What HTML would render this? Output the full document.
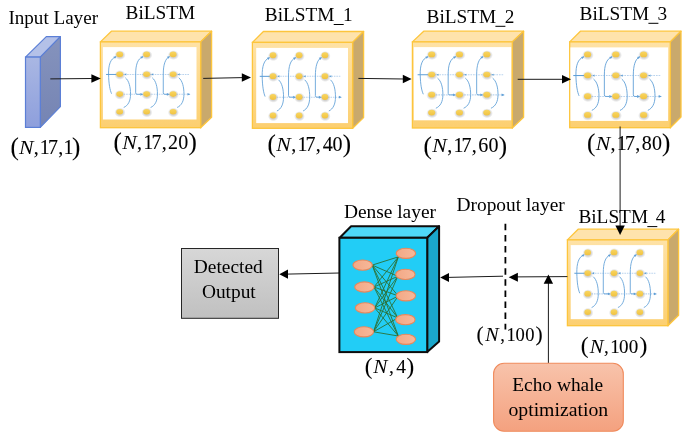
<!DOCTYPE html>
<html><head><meta charset="utf-8"><style>
html,body{margin:0;padding:0;background:#fff;}
body{width:687px;height:438px;overflow:hidden;position:relative;}
svg{position:absolute;left:0;top:0;will-change:transform;}
text{font-family:"Liberation Serif", serif;fill:#000;}
</style></head><body>
<svg width="687" height="438" viewBox="0 0 687 438">
<defs>
<linearGradient id="gfront" x1="0" y1="0" x2="0" y2="1">
 <stop offset="0" stop-color="#fee2a6"/><stop offset="1" stop-color="#fccf70"/>
</linearGradient>
<linearGradient id="ginfront" x1="0" y1="0" x2="0" y2="1">
 <stop offset="0" stop-color="#a9b7e3"/><stop offset="1" stop-color="#8e9fdc"/>
</linearGradient>
<linearGradient id="ginside" x1="0" y1="0" x2="0" y2="1">
 <stop offset="0" stop-color="#8593bd"/><stop offset="1" stop-color="#7584b3"/>
</linearGradient>
<linearGradient id="ggray" x1="0" y1="0" x2="0" y2="1">
 <stop offset="0" stop-color="#d7d7d7"/><stop offset="1" stop-color="#c0c0c0"/>
</linearGradient>
<linearGradient id="gsalmon" x1="0" y1="0" x2="0" y2="1">
 <stop offset="0" stop-color="#f8c3ab"/><stop offset="1" stop-color="#f4a17f"/>
</linearGradient>
<linearGradient id="gnode" x1="0" y1="0" x2="1" y2="0">
 <stop offset="0" stop-color="#f3a885"/><stop offset="1" stop-color="#f6b89a"/>
</linearGradient>
<linearGradient id="gdot" x1="0" y1="0" x2="0" y2="1">
 <stop offset="0" stop-color="#f9d660"/><stop offset="1" stop-color="#f0c242"/>
</linearGradient>
<radialGradient id="gshadow" cx="0.5" cy="0.5" r="0.5">
 <stop offset="0.55" stop-color="#9a9a9a" stop-opacity="0.45"/><stop offset="1" stop-color="#9a9a9a" stop-opacity="0"/>
</radialGradient>
</defs>
<polygon points="25.5,57.1 46.3,36.6 60.4,36.6 40.3,57.1" fill="#b4c1e8" stroke="#5b7fd6" stroke-width="1.2" stroke-linejoin="round"/>
<polygon points="40.3,57.1 60.4,36.6 60.4,106.6 40.3,127.4" fill="url(#ginside)" stroke="#5b7fd6" stroke-width="1.2" stroke-linejoin="round"/>
<rect x="25.5" y="57.1" width="14.8" height="70.3" fill="url(#ginfront)" stroke="#5b7fd6" stroke-width="1.2"/>
<polygon points="100.4,41.9 111.4,31.2 211.6,31.2 200.6,41.9" fill="#fee3ac" stroke="#fdc53c" stroke-width="1.3" stroke-linejoin="round"/>
<polygon points="200.6,41.9 211.6,31.2 211.6,117.3 200.6,127.7" fill="#c9a96c" stroke="#fdc53c" stroke-width="1.3" stroke-linejoin="round"/>
<rect x="100.4" y="41.9" width="100.2" height="85.8" fill="url(#gfront)" stroke="#fdc53c" stroke-width="1.3"/>
<rect x="102.9" y="47.1" width="93.6" height="72.4" fill="#ffffff"/>
<g transform="translate(99.52,41.22) scale(1.004,0.998)"><line x1="20" y1="33.3" x2="90" y2="33.3" stroke="#b9d3ee" stroke-width="1" stroke-dasharray="1.6 0.9"/>
<line x1="24" y1="53.2" x2="90" y2="53.2" stroke="#b9d3ee" stroke-width="1" stroke-dasharray="1.6 0.9"/>
<line x1="6.5" y1="33.3" x2="18" y2="33.3" stroke="#5f9fd7" stroke-width="1"/>
<polygon points="24.5,33.3 26.7,32.2 26.7,34.4" fill="#5f9fd7"/>
<polygon points="51.3,33.3 53.5,32.2 53.5,34.4" fill="#5f9fd7"/>
<polygon points="77.7,33.3 79.9,32.2 79.9,34.4" fill="#5f9fd7"/>
<polygon points="90.5,53.2 87.6,51.9 87.6,54.5" fill="#5f9fd7"/>
<path d="M16.4,15.5 C10.7,17.5 8.9,24 9,33 C9.2,43 10.4,49 12,52.6" fill="none" stroke="#5f9fd7" stroke-width="0.85"/>
<polygon points="17,15.0 13.8,15.6 15.4,17.6" fill="#5f9fd7"/>
<path d="M25.7,36.6 C29.4,39.5 30.9,46 30.9,53 C30.9,60 28.4,64.5 24.1,66.4" fill="none" stroke="#5f9fd7" stroke-width="0.85"/>
<path d="M43.2,15.5 C37.8,17.5 36,24 36,33 L36,51.7 Q36,53.2 37.5,53.2 L40.9,53.2" fill="none" stroke="#5f9fd7" stroke-width="0.85"/>
<polygon points="43.5,53.2 40.7,51.8 40.7,54.6" fill="#5f9fd7"/>
<polygon points="43.8,15.0 40.6,15.6 42.2,17.6" fill="#5f9fd7"/>
<path d="M52.5,36.6 C56.2,39.5 57.7,46 57.7,53 C57.7,60 55.2,64.5 50.9,66.4" fill="none" stroke="#5f9fd7" stroke-width="0.85"/>
<path d="M69.6,15.5 C65.3,17.5 63.5,24 63.5,33 L63.5,51.7 Q63.5,53.2 65,53.2 L67.3,53.2" fill="none" stroke="#5f9fd7" stroke-width="0.85"/>
<polygon points="69.9,53.2 67.1,51.8 67.1,54.6" fill="#5f9fd7"/>
<polygon points="70.2,15.0 67,15.6 68.6,17.6" fill="#5f9fd7"/>
<path d="M78.9,36.6 C82.6,39.5 84.1,46 84.1,53 C84.1,60 81.6,64.5 77.3,66.4" fill="none" stroke="#5f9fd7" stroke-width="0.85"/>
<ellipse cx="20.4" cy="13.9" rx="5.6" ry="4.9" fill="url(#gshadow)"/>
<ellipse cx="20.1" cy="13.2" rx="3.4" ry="2.8" fill="url(#gdot)"/>
<ellipse cx="47.2" cy="13.9" rx="5.6" ry="4.9" fill="url(#gshadow)"/>
<ellipse cx="46.9" cy="13.2" rx="3.4" ry="2.8" fill="url(#gdot)"/>
<ellipse cx="73.6" cy="13.9" rx="5.6" ry="4.9" fill="url(#gshadow)"/>
<ellipse cx="73.3" cy="13.2" rx="3.4" ry="2.8" fill="url(#gdot)"/>
<ellipse cx="20.4" cy="33.8" rx="5.6" ry="4.9" fill="url(#gshadow)"/>
<ellipse cx="20.1" cy="33.1" rx="3.4" ry="2.8" fill="url(#gdot)"/>
<ellipse cx="47.2" cy="33.8" rx="5.6" ry="4.9" fill="url(#gshadow)"/>
<ellipse cx="46.9" cy="33.1" rx="3.4" ry="2.8" fill="url(#gdot)"/>
<ellipse cx="73.6" cy="33.8" rx="5.6" ry="4.9" fill="url(#gshadow)"/>
<ellipse cx="73.3" cy="33.1" rx="3.4" ry="2.8" fill="url(#gdot)"/>
<ellipse cx="20.4" cy="53.7" rx="5.6" ry="4.9" fill="url(#gshadow)"/>
<ellipse cx="20.1" cy="53" rx="3.4" ry="2.8" fill="url(#gdot)"/>
<ellipse cx="47.2" cy="53.7" rx="5.6" ry="4.9" fill="url(#gshadow)"/>
<ellipse cx="46.9" cy="53" rx="3.4" ry="2.8" fill="url(#gdot)"/>
<ellipse cx="73.6" cy="53.7" rx="5.6" ry="4.9" fill="url(#gshadow)"/>
<ellipse cx="73.3" cy="53" rx="3.4" ry="2.8" fill="url(#gdot)"/>
<ellipse cx="20.4" cy="71.4" rx="5.6" ry="4.9" fill="url(#gshadow)"/>
<ellipse cx="20.1" cy="70.7" rx="3.4" ry="2.8" fill="url(#gdot)"/>
<ellipse cx="47.2" cy="71.4" rx="5.6" ry="4.9" fill="url(#gshadow)"/>
<ellipse cx="46.9" cy="70.7" rx="3.4" ry="2.8" fill="url(#gdot)"/>
<ellipse cx="73.6" cy="71.4" rx="5.6" ry="4.9" fill="url(#gshadow)"/>
<ellipse cx="73.3" cy="70.7" rx="3.4" ry="2.8" fill="url(#gdot)"/></g>
<polygon points="252.4,42.4 263.4,31.5 363.6,31.5 352.6,42.4" fill="#fee3ac" stroke="#fdc53c" stroke-width="1.3" stroke-linejoin="round"/>
<polygon points="352.6,42.4 363.6,31.5 363.6,117.6 352.6,128.3" fill="#c9a96c" stroke="#fdc53c" stroke-width="1.3" stroke-linejoin="round"/>
<rect x="252.4" y="42.4" width="100.2" height="85.9" fill="url(#gfront)" stroke="#fdc53c" stroke-width="1.3"/>
<rect x="256.2" y="47.9" width="91.8" height="75.2" fill="#ffffff"/>
<g transform="translate(253.39,41.48) scale(0.976,1.047)"><line x1="20" y1="33.3" x2="90" y2="33.3" stroke="#b9d3ee" stroke-width="1" stroke-dasharray="1.6 0.9"/>
<line x1="24" y1="53.2" x2="90" y2="53.2" stroke="#b9d3ee" stroke-width="1" stroke-dasharray="1.6 0.9"/>
<line x1="6.5" y1="33.3" x2="18" y2="33.3" stroke="#5f9fd7" stroke-width="1"/>
<polygon points="24.5,33.3 26.7,32.2 26.7,34.4" fill="#5f9fd7"/>
<polygon points="51.3,33.3 53.5,32.2 53.5,34.4" fill="#5f9fd7"/>
<polygon points="77.7,33.3 79.9,32.2 79.9,34.4" fill="#5f9fd7"/>
<polygon points="90.5,53.2 87.6,51.9 87.6,54.5" fill="#5f9fd7"/>
<path d="M16.4,15.5 C10.7,17.5 8.9,24 9,33 C9.2,43 10.4,49 12,52.6" fill="none" stroke="#5f9fd7" stroke-width="0.85"/>
<polygon points="17,15.0 13.8,15.6 15.4,17.6" fill="#5f9fd7"/>
<path d="M25.7,36.6 C29.4,39.5 30.9,46 30.9,53 C30.9,60 28.4,64.5 24.1,66.4" fill="none" stroke="#5f9fd7" stroke-width="0.85"/>
<path d="M43.2,15.5 C37.8,17.5 36,24 36,33 L36,51.7 Q36,53.2 37.5,53.2 L40.9,53.2" fill="none" stroke="#5f9fd7" stroke-width="0.85"/>
<polygon points="43.5,53.2 40.7,51.8 40.7,54.6" fill="#5f9fd7"/>
<polygon points="43.8,15.0 40.6,15.6 42.2,17.6" fill="#5f9fd7"/>
<path d="M52.5,36.6 C56.2,39.5 57.7,46 57.7,53 C57.7,60 55.2,64.5 50.9,66.4" fill="none" stroke="#5f9fd7" stroke-width="0.85"/>
<path d="M69.6,15.5 C65.3,17.5 63.5,24 63.5,33 L63.5,51.7 Q63.5,53.2 65,53.2 L67.3,53.2" fill="none" stroke="#5f9fd7" stroke-width="0.85"/>
<polygon points="69.9,53.2 67.1,51.8 67.1,54.6" fill="#5f9fd7"/>
<polygon points="70.2,15.0 67,15.6 68.6,17.6" fill="#5f9fd7"/>
<path d="M78.9,36.6 C82.6,39.5 84.1,46 84.1,53 C84.1,60 81.6,64.5 77.3,66.4" fill="none" stroke="#5f9fd7" stroke-width="0.85"/>
<ellipse cx="20.4" cy="13.9" rx="5.6" ry="4.9" fill="url(#gshadow)"/>
<ellipse cx="20.1" cy="13.2" rx="3.4" ry="2.8" fill="url(#gdot)"/>
<ellipse cx="47.2" cy="13.9" rx="5.6" ry="4.9" fill="url(#gshadow)"/>
<ellipse cx="46.9" cy="13.2" rx="3.4" ry="2.8" fill="url(#gdot)"/>
<ellipse cx="73.6" cy="13.9" rx="5.6" ry="4.9" fill="url(#gshadow)"/>
<ellipse cx="73.3" cy="13.2" rx="3.4" ry="2.8" fill="url(#gdot)"/>
<ellipse cx="20.4" cy="33.8" rx="5.6" ry="4.9" fill="url(#gshadow)"/>
<ellipse cx="20.1" cy="33.1" rx="3.4" ry="2.8" fill="url(#gdot)"/>
<ellipse cx="47.2" cy="33.8" rx="5.6" ry="4.9" fill="url(#gshadow)"/>
<ellipse cx="46.9" cy="33.1" rx="3.4" ry="2.8" fill="url(#gdot)"/>
<ellipse cx="73.6" cy="33.8" rx="5.6" ry="4.9" fill="url(#gshadow)"/>
<ellipse cx="73.3" cy="33.1" rx="3.4" ry="2.8" fill="url(#gdot)"/>
<ellipse cx="20.4" cy="53.7" rx="5.6" ry="4.9" fill="url(#gshadow)"/>
<ellipse cx="20.1" cy="53" rx="3.4" ry="2.8" fill="url(#gdot)"/>
<ellipse cx="47.2" cy="53.7" rx="5.6" ry="4.9" fill="url(#gshadow)"/>
<ellipse cx="46.9" cy="53" rx="3.4" ry="2.8" fill="url(#gdot)"/>
<ellipse cx="73.6" cy="53.7" rx="5.6" ry="4.9" fill="url(#gshadow)"/>
<ellipse cx="73.3" cy="53" rx="3.4" ry="2.8" fill="url(#gdot)"/>
<ellipse cx="20.4" cy="71.4" rx="5.6" ry="4.9" fill="url(#gshadow)"/>
<ellipse cx="20.1" cy="70.7" rx="3.4" ry="2.8" fill="url(#gdot)"/>
<ellipse cx="47.2" cy="71.4" rx="5.6" ry="4.9" fill="url(#gshadow)"/>
<ellipse cx="46.9" cy="70.7" rx="3.4" ry="2.8" fill="url(#gdot)"/>
<ellipse cx="73.6" cy="71.4" rx="5.6" ry="4.9" fill="url(#gshadow)"/>
<ellipse cx="73.3" cy="70.7" rx="3.4" ry="2.8" fill="url(#gdot)"/></g>
<polygon points="412.4,41.9 423.7,31.2 523.6,31.2 512.3,41.9" fill="#fee3ac" stroke="#fdc53c" stroke-width="1.3" stroke-linejoin="round"/>
<polygon points="512.3,41.9 523.6,31.2 523.6,117.3 512.3,128" fill="#c9a96c" stroke="#fdc53c" stroke-width="1.3" stroke-linejoin="round"/>
<rect x="412.4" y="41.9" width="99.9" height="86.1" fill="url(#gfront)" stroke="#fdc53c" stroke-width="1.3"/>
<rect x="413.8" y="47.1" width="97.4" height="73.2" fill="#ffffff"/>
<g transform="translate(410.88,41.04) scale(1.036,1.012)"><line x1="20" y1="33.3" x2="90" y2="33.3" stroke="#b9d3ee" stroke-width="1" stroke-dasharray="1.6 0.9"/>
<line x1="24" y1="53.2" x2="90" y2="53.2" stroke="#b9d3ee" stroke-width="1" stroke-dasharray="1.6 0.9"/>
<line x1="6.5" y1="33.3" x2="18" y2="33.3" stroke="#5f9fd7" stroke-width="1"/>
<polygon points="24.5,33.3 26.7,32.2 26.7,34.4" fill="#5f9fd7"/>
<polygon points="51.3,33.3 53.5,32.2 53.5,34.4" fill="#5f9fd7"/>
<polygon points="77.7,33.3 79.9,32.2 79.9,34.4" fill="#5f9fd7"/>
<polygon points="90.5,53.2 87.6,51.9 87.6,54.5" fill="#5f9fd7"/>
<path d="M16.4,15.5 C10.7,17.5 8.9,24 9,33 C9.2,43 10.4,49 12,52.6" fill="none" stroke="#5f9fd7" stroke-width="0.85"/>
<polygon points="17,15.0 13.8,15.6 15.4,17.6" fill="#5f9fd7"/>
<path d="M25.7,36.6 C29.4,39.5 30.9,46 30.9,53 C30.9,60 28.4,64.5 24.1,66.4" fill="none" stroke="#5f9fd7" stroke-width="0.85"/>
<path d="M43.2,15.5 C37.8,17.5 36,24 36,33 L36,51.7 Q36,53.2 37.5,53.2 L40.9,53.2" fill="none" stroke="#5f9fd7" stroke-width="0.85"/>
<polygon points="43.5,53.2 40.7,51.8 40.7,54.6" fill="#5f9fd7"/>
<polygon points="43.8,15.0 40.6,15.6 42.2,17.6" fill="#5f9fd7"/>
<path d="M52.5,36.6 C56.2,39.5 57.7,46 57.7,53 C57.7,60 55.2,64.5 50.9,66.4" fill="none" stroke="#5f9fd7" stroke-width="0.85"/>
<path d="M69.6,15.5 C65.3,17.5 63.5,24 63.5,33 L63.5,51.7 Q63.5,53.2 65,53.2 L67.3,53.2" fill="none" stroke="#5f9fd7" stroke-width="0.85"/>
<polygon points="69.9,53.2 67.1,51.8 67.1,54.6" fill="#5f9fd7"/>
<polygon points="70.2,15.0 67,15.6 68.6,17.6" fill="#5f9fd7"/>
<path d="M78.9,36.6 C82.6,39.5 84.1,46 84.1,53 C84.1,60 81.6,64.5 77.3,66.4" fill="none" stroke="#5f9fd7" stroke-width="0.85"/>
<ellipse cx="20.4" cy="13.9" rx="5.6" ry="4.9" fill="url(#gshadow)"/>
<ellipse cx="20.1" cy="13.2" rx="3.4" ry="2.8" fill="url(#gdot)"/>
<ellipse cx="47.2" cy="13.9" rx="5.6" ry="4.9" fill="url(#gshadow)"/>
<ellipse cx="46.9" cy="13.2" rx="3.4" ry="2.8" fill="url(#gdot)"/>
<ellipse cx="73.6" cy="13.9" rx="5.6" ry="4.9" fill="url(#gshadow)"/>
<ellipse cx="73.3" cy="13.2" rx="3.4" ry="2.8" fill="url(#gdot)"/>
<ellipse cx="20.4" cy="33.8" rx="5.6" ry="4.9" fill="url(#gshadow)"/>
<ellipse cx="20.1" cy="33.1" rx="3.4" ry="2.8" fill="url(#gdot)"/>
<ellipse cx="47.2" cy="33.8" rx="5.6" ry="4.9" fill="url(#gshadow)"/>
<ellipse cx="46.9" cy="33.1" rx="3.4" ry="2.8" fill="url(#gdot)"/>
<ellipse cx="73.6" cy="33.8" rx="5.6" ry="4.9" fill="url(#gshadow)"/>
<ellipse cx="73.3" cy="33.1" rx="3.4" ry="2.8" fill="url(#gdot)"/>
<ellipse cx="20.4" cy="53.7" rx="5.6" ry="4.9" fill="url(#gshadow)"/>
<ellipse cx="20.1" cy="53" rx="3.4" ry="2.8" fill="url(#gdot)"/>
<ellipse cx="47.2" cy="53.7" rx="5.6" ry="4.9" fill="url(#gshadow)"/>
<ellipse cx="46.9" cy="53" rx="3.4" ry="2.8" fill="url(#gdot)"/>
<ellipse cx="73.6" cy="53.7" rx="5.6" ry="4.9" fill="url(#gshadow)"/>
<ellipse cx="73.3" cy="53" rx="3.4" ry="2.8" fill="url(#gdot)"/>
<ellipse cx="20.4" cy="71.4" rx="5.6" ry="4.9" fill="url(#gshadow)"/>
<ellipse cx="20.1" cy="70.7" rx="3.4" ry="2.8" fill="url(#gdot)"/>
<ellipse cx="47.2" cy="71.4" rx="5.6" ry="4.9" fill="url(#gshadow)"/>
<ellipse cx="46.9" cy="70.7" rx="3.4" ry="2.8" fill="url(#gdot)"/>
<ellipse cx="73.6" cy="71.4" rx="5.6" ry="4.9" fill="url(#gshadow)"/>
<ellipse cx="73.3" cy="70.7" rx="3.4" ry="2.8" fill="url(#gdot)"/></g>
<polygon points="569.7,41.9 580.4,31.2 681,31.2 670.3,41.9" fill="#fee3ac" stroke="#fdc53c" stroke-width="1.3" stroke-linejoin="round"/>
<polygon points="670.3,41.9 681,31.2 681,117 670.3,127.7" fill="#c9a96c" stroke="#fdc53c" stroke-width="1.3" stroke-linejoin="round"/>
<rect x="569.7" y="41.9" width="100.6" height="85.8" fill="url(#gfront)" stroke="#fdc53c" stroke-width="1.3"/>
<rect x="570.4" y="47.4" width="97.7" height="73.5" fill="#ffffff"/>
<g transform="translate(566.44,40.51) scale(1.053,1.052)"><line x1="20" y1="33.3" x2="90" y2="33.3" stroke="#b9d3ee" stroke-width="1" stroke-dasharray="1.6 0.9"/>
<line x1="24" y1="53.2" x2="90" y2="53.2" stroke="#b9d3ee" stroke-width="1" stroke-dasharray="1.6 0.9"/>
<line x1="6.5" y1="33.3" x2="18" y2="33.3" stroke="#5f9fd7" stroke-width="1"/>
<polygon points="24.5,33.3 26.7,32.2 26.7,34.4" fill="#5f9fd7"/>
<polygon points="51.3,33.3 53.5,32.2 53.5,34.4" fill="#5f9fd7"/>
<polygon points="77.7,33.3 79.9,32.2 79.9,34.4" fill="#5f9fd7"/>
<polygon points="90.5,53.2 87.6,51.9 87.6,54.5" fill="#5f9fd7"/>
<path d="M16.4,15.5 C10.7,17.5 8.9,24 9,33 C9.2,43 10.4,49 12,52.6" fill="none" stroke="#5f9fd7" stroke-width="0.85"/>
<polygon points="17,15.0 13.8,15.6 15.4,17.6" fill="#5f9fd7"/>
<path d="M25.7,36.6 C29.4,39.5 30.9,46 30.9,53 C30.9,60 28.4,64.5 24.1,66.4" fill="none" stroke="#5f9fd7" stroke-width="0.85"/>
<path d="M43.2,15.5 C37.8,17.5 36,24 36,33 L36,51.7 Q36,53.2 37.5,53.2 L40.9,53.2" fill="none" stroke="#5f9fd7" stroke-width="0.85"/>
<polygon points="43.5,53.2 40.7,51.8 40.7,54.6" fill="#5f9fd7"/>
<polygon points="43.8,15.0 40.6,15.6 42.2,17.6" fill="#5f9fd7"/>
<path d="M52.5,36.6 C56.2,39.5 57.7,46 57.7,53 C57.7,60 55.2,64.5 50.9,66.4" fill="none" stroke="#5f9fd7" stroke-width="0.85"/>
<path d="M69.6,15.5 C65.3,17.5 63.5,24 63.5,33 L63.5,51.7 Q63.5,53.2 65,53.2 L67.3,53.2" fill="none" stroke="#5f9fd7" stroke-width="0.85"/>
<polygon points="69.9,53.2 67.1,51.8 67.1,54.6" fill="#5f9fd7"/>
<polygon points="70.2,15.0 67,15.6 68.6,17.6" fill="#5f9fd7"/>
<path d="M78.9,36.6 C82.6,39.5 84.1,46 84.1,53 C84.1,60 81.6,64.5 77.3,66.4" fill="none" stroke="#5f9fd7" stroke-width="0.85"/>
<ellipse cx="20.4" cy="13.9" rx="5.6" ry="4.9" fill="url(#gshadow)"/>
<ellipse cx="20.1" cy="13.2" rx="3.4" ry="2.8" fill="url(#gdot)"/>
<ellipse cx="47.2" cy="13.9" rx="5.6" ry="4.9" fill="url(#gshadow)"/>
<ellipse cx="46.9" cy="13.2" rx="3.4" ry="2.8" fill="url(#gdot)"/>
<ellipse cx="73.6" cy="13.9" rx="5.6" ry="4.9" fill="url(#gshadow)"/>
<ellipse cx="73.3" cy="13.2" rx="3.4" ry="2.8" fill="url(#gdot)"/>
<ellipse cx="20.4" cy="33.8" rx="5.6" ry="4.9" fill="url(#gshadow)"/>
<ellipse cx="20.1" cy="33.1" rx="3.4" ry="2.8" fill="url(#gdot)"/>
<ellipse cx="47.2" cy="33.8" rx="5.6" ry="4.9" fill="url(#gshadow)"/>
<ellipse cx="46.9" cy="33.1" rx="3.4" ry="2.8" fill="url(#gdot)"/>
<ellipse cx="73.6" cy="33.8" rx="5.6" ry="4.9" fill="url(#gshadow)"/>
<ellipse cx="73.3" cy="33.1" rx="3.4" ry="2.8" fill="url(#gdot)"/>
<ellipse cx="20.4" cy="53.7" rx="5.6" ry="4.9" fill="url(#gshadow)"/>
<ellipse cx="20.1" cy="53" rx="3.4" ry="2.8" fill="url(#gdot)"/>
<ellipse cx="47.2" cy="53.7" rx="5.6" ry="4.9" fill="url(#gshadow)"/>
<ellipse cx="46.9" cy="53" rx="3.4" ry="2.8" fill="url(#gdot)"/>
<ellipse cx="73.6" cy="53.7" rx="5.6" ry="4.9" fill="url(#gshadow)"/>
<ellipse cx="73.3" cy="53" rx="3.4" ry="2.8" fill="url(#gdot)"/>
<ellipse cx="20.4" cy="71.4" rx="5.6" ry="4.9" fill="url(#gshadow)"/>
<ellipse cx="20.1" cy="70.7" rx="3.4" ry="2.8" fill="url(#gdot)"/>
<ellipse cx="47.2" cy="71.4" rx="5.6" ry="4.9" fill="url(#gshadow)"/>
<ellipse cx="46.9" cy="70.7" rx="3.4" ry="2.8" fill="url(#gdot)"/>
<ellipse cx="73.6" cy="71.4" rx="5.6" ry="4.9" fill="url(#gshadow)"/>
<ellipse cx="73.3" cy="70.7" rx="3.4" ry="2.8" fill="url(#gdot)"/></g>
<polygon points="567.4,239.9 578.1,229.2 678.6,229.2 667.9,239.9" fill="#fee3ac" stroke="#fdc53c" stroke-width="1.3" stroke-linejoin="round"/>
<polygon points="667.9,239.9 678.6,229.2 678.6,315.3 667.9,325.7" fill="#c9a96c" stroke="#fdc53c" stroke-width="1.3" stroke-linejoin="round"/>
<rect x="567.4" y="239.9" width="100.5" height="85.8" fill="url(#gfront)" stroke="#fdc53c" stroke-width="1.3"/>
<rect x="570.7" y="245.1" width="92.5" height="74.1" fill="#ffffff"/>
<g transform="translate(567.98,238.72) scale(0.981,1.037)"><line x1="20" y1="33.3" x2="90" y2="33.3" stroke="#b9d3ee" stroke-width="1" stroke-dasharray="1.6 0.9"/>
<line x1="24" y1="53.2" x2="90" y2="53.2" stroke="#b9d3ee" stroke-width="1" stroke-dasharray="1.6 0.9"/>
<line x1="6.5" y1="33.3" x2="18" y2="33.3" stroke="#5f9fd7" stroke-width="1"/>
<polygon points="24.5,33.3 26.7,32.2 26.7,34.4" fill="#5f9fd7"/>
<polygon points="51.3,33.3 53.5,32.2 53.5,34.4" fill="#5f9fd7"/>
<polygon points="77.7,33.3 79.9,32.2 79.9,34.4" fill="#5f9fd7"/>
<polygon points="90.5,53.2 87.6,51.9 87.6,54.5" fill="#5f9fd7"/>
<path d="M16.4,15.5 C10.7,17.5 8.9,24 9,33 C9.2,43 10.4,49 12,52.6" fill="none" stroke="#5f9fd7" stroke-width="0.85"/>
<polygon points="17,15.0 13.8,15.6 15.4,17.6" fill="#5f9fd7"/>
<path d="M25.7,36.6 C29.4,39.5 30.9,46 30.9,53 C30.9,60 28.4,64.5 24.1,66.4" fill="none" stroke="#5f9fd7" stroke-width="0.85"/>
<path d="M43.2,15.5 C37.8,17.5 36,24 36,33 L36,51.7 Q36,53.2 37.5,53.2 L40.9,53.2" fill="none" stroke="#5f9fd7" stroke-width="0.85"/>
<polygon points="43.5,53.2 40.7,51.8 40.7,54.6" fill="#5f9fd7"/>
<polygon points="43.8,15.0 40.6,15.6 42.2,17.6" fill="#5f9fd7"/>
<path d="M52.5,36.6 C56.2,39.5 57.7,46 57.7,53 C57.7,60 55.2,64.5 50.9,66.4" fill="none" stroke="#5f9fd7" stroke-width="0.85"/>
<path d="M69.6,15.5 C65.3,17.5 63.5,24 63.5,33 L63.5,51.7 Q63.5,53.2 65,53.2 L67.3,53.2" fill="none" stroke="#5f9fd7" stroke-width="0.85"/>
<polygon points="69.9,53.2 67.1,51.8 67.1,54.6" fill="#5f9fd7"/>
<polygon points="70.2,15.0 67,15.6 68.6,17.6" fill="#5f9fd7"/>
<path d="M78.9,36.6 C82.6,39.5 84.1,46 84.1,53 C84.1,60 81.6,64.5 77.3,66.4" fill="none" stroke="#5f9fd7" stroke-width="0.85"/>
<ellipse cx="20.4" cy="13.9" rx="5.6" ry="4.9" fill="url(#gshadow)"/>
<ellipse cx="20.1" cy="13.2" rx="3.4" ry="2.8" fill="url(#gdot)"/>
<ellipse cx="47.2" cy="13.9" rx="5.6" ry="4.9" fill="url(#gshadow)"/>
<ellipse cx="46.9" cy="13.2" rx="3.4" ry="2.8" fill="url(#gdot)"/>
<ellipse cx="73.6" cy="13.9" rx="5.6" ry="4.9" fill="url(#gshadow)"/>
<ellipse cx="73.3" cy="13.2" rx="3.4" ry="2.8" fill="url(#gdot)"/>
<ellipse cx="20.4" cy="33.8" rx="5.6" ry="4.9" fill="url(#gshadow)"/>
<ellipse cx="20.1" cy="33.1" rx="3.4" ry="2.8" fill="url(#gdot)"/>
<ellipse cx="47.2" cy="33.8" rx="5.6" ry="4.9" fill="url(#gshadow)"/>
<ellipse cx="46.9" cy="33.1" rx="3.4" ry="2.8" fill="url(#gdot)"/>
<ellipse cx="73.6" cy="33.8" rx="5.6" ry="4.9" fill="url(#gshadow)"/>
<ellipse cx="73.3" cy="33.1" rx="3.4" ry="2.8" fill="url(#gdot)"/>
<ellipse cx="20.4" cy="53.7" rx="5.6" ry="4.9" fill="url(#gshadow)"/>
<ellipse cx="20.1" cy="53" rx="3.4" ry="2.8" fill="url(#gdot)"/>
<ellipse cx="47.2" cy="53.7" rx="5.6" ry="4.9" fill="url(#gshadow)"/>
<ellipse cx="46.9" cy="53" rx="3.4" ry="2.8" fill="url(#gdot)"/>
<ellipse cx="73.6" cy="53.7" rx="5.6" ry="4.9" fill="url(#gshadow)"/>
<ellipse cx="73.3" cy="53" rx="3.4" ry="2.8" fill="url(#gdot)"/>
<ellipse cx="20.4" cy="71.4" rx="5.6" ry="4.9" fill="url(#gshadow)"/>
<ellipse cx="20.1" cy="70.7" rx="3.4" ry="2.8" fill="url(#gdot)"/>
<ellipse cx="47.2" cy="71.4" rx="5.6" ry="4.9" fill="url(#gshadow)"/>
<ellipse cx="46.9" cy="70.7" rx="3.4" ry="2.8" fill="url(#gdot)"/>
<ellipse cx="73.6" cy="71.4" rx="5.6" ry="4.9" fill="url(#gshadow)"/>
<ellipse cx="73.3" cy="70.7" rx="3.4" ry="2.8" fill="url(#gdot)"/></g>
<line x1="50.3" y1="78.9" x2="92" y2="78.5" stroke="#1a1a1a" stroke-width="1.0"/>
<polygon points="100.8,78.5 91.4,74.2 91.4,82.8" fill="#000"/>
<line x1="203.2" y1="78.4" x2="243" y2="77.6" stroke="#1a1a1a" stroke-width="1.0"/>
<polygon points="251,77.5 241.8,73.2 241.8,81.8" fill="#000"/>
<line x1="358.4" y1="78.4" x2="404" y2="79" stroke="#1a1a1a" stroke-width="1.0"/>
<polygon points="411.6,79 402.8,74.7 402.8,83.3" fill="#000"/>
<line x1="517.7" y1="79.3" x2="563" y2="79.3" stroke="#1a1a1a" stroke-width="1.0"/>
<polygon points="571,79.3 562,75 562,83.6" fill="#000"/>
<line x1="620.1" y1="126.5" x2="620.1" y2="226" stroke="#1a1a1a" stroke-width="1.0"/>
<polygon points="620.1,234.9 615.4,225.5 624.8,225.5" fill="#000"/>
<line x1="567.4" y1="276.6" x2="517" y2="276.9" stroke="#1a1a1a" stroke-width="1.0"/>
<polygon points="508.7,277.2 517.9,272.7 517.9,281.7" fill="#000"/>
<line x1="505.4" y1="223.8" x2="505.4" y2="329.5" stroke="#000" stroke-width="1.8" stroke-dasharray="6.5 4.6"/>
<line x1="503" y1="276.2" x2="448" y2="277.4" stroke="#1a1a1a" stroke-width="1.0"/>
<polygon points="440.2,277.5 449,273 449,282" fill="#000"/>
<line x1="339.5" y1="273.0" x2="287" y2="274.1" stroke="#1a1a1a" stroke-width="1.0"/>
<polygon points="279.3,274.2 288,269.6 288,278.8" fill="#000"/>
<line x1="548.4" y1="363.2" x2="548.4" y2="283" stroke="#1a1a1a" stroke-width="1.0"/>
<polygon points="548.4,274.5 543.7,283.7 553.1,283.7" fill="#000"/>
<polygon points="339.7,237.8 351.1,226.2 439.1,226.2 427.2,237.8" fill="#4fd8f8" stroke="#0d0d0d" stroke-width="2" stroke-linejoin="round"/>
<polygon points="427.2,237.8 439.1,226.2 439.1,341.4 427.2,352.1" fill="#1aa7cb" stroke="#0d0d0d" stroke-width="2" stroke-linejoin="round"/>
<rect x="339.4" y="237.8" width="87.8" height="114.3" fill="#22cdf6" stroke="#0d0d0d" stroke-width="2"/>
<line x1="372.2" y1="265.1" x2="398.3" y2="256.88" stroke="#2b7035" stroke-width="0.9"/>
<line x1="372.2" y1="265.1" x2="397.8" y2="276.29" stroke="#2b7035" stroke-width="0.9"/>
<line x1="372.2" y1="265.1" x2="398.3" y2="295.98" stroke="#2b7035" stroke-width="0.9"/>
<line x1="372.2" y1="265.1" x2="397.8" y2="317.96" stroke="#2b7035" stroke-width="0.9"/>
<line x1="372.2" y1="265.1" x2="398.3" y2="336" stroke="#2b7035" stroke-width="0.9"/>
<line x1="374" y1="287" x2="398.3" y2="256.88" stroke="#2b7035" stroke-width="0.9"/>
<line x1="374" y1="287" x2="397.8" y2="276.29" stroke="#2b7035" stroke-width="0.9"/>
<line x1="374" y1="287" x2="398.3" y2="295.98" stroke="#2b7035" stroke-width="0.9"/>
<line x1="374" y1="287" x2="397.8" y2="317.96" stroke="#2b7035" stroke-width="0.9"/>
<line x1="374" y1="287" x2="398.3" y2="336" stroke="#2b7035" stroke-width="0.9"/>
<line x1="374.7" y1="307.9" x2="398.3" y2="256.88" stroke="#2b7035" stroke-width="0.9"/>
<line x1="374.7" y1="307.9" x2="397.8" y2="276.29" stroke="#2b7035" stroke-width="0.9"/>
<line x1="374.7" y1="307.9" x2="398.3" y2="295.98" stroke="#2b7035" stroke-width="0.9"/>
<line x1="374.7" y1="307.9" x2="397.8" y2="317.96" stroke="#2b7035" stroke-width="0.9"/>
<line x1="374.7" y1="307.9" x2="398.3" y2="336" stroke="#2b7035" stroke-width="0.9"/>
<line x1="373.5" y1="331.8" x2="398.3" y2="256.88" stroke="#2b7035" stroke-width="0.9"/>
<line x1="373.5" y1="331.8" x2="397.8" y2="276.29" stroke="#2b7035" stroke-width="0.9"/>
<line x1="373.5" y1="331.8" x2="398.3" y2="295.98" stroke="#2b7035" stroke-width="0.9"/>
<line x1="373.5" y1="331.8" x2="397.8" y2="317.96" stroke="#2b7035" stroke-width="0.9"/>
<line x1="373.5" y1="331.8" x2="398.3" y2="336" stroke="#2b7035" stroke-width="0.9"/>
<ellipse cx="362.6" cy="265.1" rx="9.7" ry="5.1" fill="url(#gnode)" stroke="#e9875a" stroke-width="1.1"/>
<ellipse cx="364.4" cy="287" rx="9.7" ry="5.1" fill="url(#gnode)" stroke="#e9875a" stroke-width="1.1"/>
<ellipse cx="365.1" cy="307.9" rx="9.7" ry="5.1" fill="url(#gnode)" stroke="#e9875a" stroke-width="1.1"/>
<ellipse cx="363.9" cy="331.8" rx="9.7" ry="5.1" fill="url(#gnode)" stroke="#e9875a" stroke-width="1.1"/>
<ellipse cx="405.9" cy="253.3" rx="9.7" ry="5.1" fill="url(#gnode)" stroke="#e9875a" stroke-width="1.1"/>
<ellipse cx="405.4" cy="274.4" rx="9.7" ry="5.1" fill="url(#gnode)" stroke="#e9875a" stroke-width="1.1"/>
<ellipse cx="405.9" cy="295.8" rx="9.7" ry="5.1" fill="url(#gnode)" stroke="#e9875a" stroke-width="1.1"/>
<ellipse cx="405.4" cy="319.7" rx="9.7" ry="5.1" fill="url(#gnode)" stroke="#e9875a" stroke-width="1.1"/>
<ellipse cx="405.9" cy="339.3" rx="9.7" ry="5.1" fill="url(#gnode)" stroke="#e9875a" stroke-width="1.1"/>
<rect x="181.5" y="248.5" width="97" height="69.8" fill="url(#ggray)" stroke="#262626" stroke-width="1"/>
<rect x="493.6" y="363.2" width="129.7" height="68.1" rx="10.5" ry="10.5" fill="url(#gsalmon)" stroke="#f08a5b" stroke-width="1.1"/>
<text x="8.4" y="24.3" font-size="19.1" text-anchor="start" >Input Layer</text>
<text x="125.52" y="18.7" font-size="19.3" text-anchor="start" >BiLSTM</text>
<text x="264.82" y="20.9" font-size="19.3" text-anchor="start" >BiLSTM</text>
<rect x="333.7" y="24" width="10" height="1" fill="#000"/>
<text x="343.11" y="20.9" font-size="19.3" text-anchor="start" >1</text>
<text x="426.52" y="22.7" font-size="19.3" text-anchor="start" >BiLSTM</text>
<rect x="495.4" y="25.8" width="10" height="1" fill="#000"/>
<text x="504.71" y="22.7" font-size="19.3" text-anchor="start" >2</text>
<text x="579.52" y="19.7" font-size="19.3" text-anchor="start" >BiLSTM</text>
<rect x="648.4" y="22.8" width="10" height="1" fill="#000"/>
<text x="657.42" y="19.7" font-size="19.3" text-anchor="start" >3</text>
<text x="578.42" y="223" font-size="19.3" text-anchor="start" >BiLSTM</text>
<rect x="647.3" y="226.1" width="10" height="1" fill="#000"/>
<text x="655.84" y="223" font-size="19.3" text-anchor="start" >4</text>
<text x="343.9" y="217.8" font-size="19.4" text-anchor="start" >Dense layer</text>
<text x="456.5" y="211.2" font-size="19.4" text-anchor="start" >Dropout layer</text>
<text x="193.8" y="273.2" font-size="19.4" text-anchor="start" >Detected</text>
<text x="201.9" y="298.2" font-size="19.4" text-anchor="start" >Output</text>
<text x="512.2" y="391.1" font-size="19.4" text-anchor="start" >Echo whale</text>
<text x="508.4" y="416" font-size="19.75" text-anchor="start" >optimization</text>
<text x="10.57" y="155.1" font-size="25" stroke="#000" stroke-width="0.1">(</text>
<text transform="translate(18.95,153.8) scale(1.09,0.98)" x="0" y="0" font-size="20" font-style="italic">N</text>
<text x="33.75" y="153.8" font-size="20" stroke="#000" stroke-width="0.1">,</text>
<text x="39.75" y="153.8" font-size="20" stroke="#000" stroke-width="0.1">1</text>
<text x="47.9" y="153.8" font-size="20" stroke="#000" stroke-width="0.1">7</text>
<text x="58.35" y="153.8" font-size="20" stroke="#000" stroke-width="0.1">,</text>
<text x="63.55" y="153.8" font-size="20" stroke="#000" stroke-width="0.1">1</text>
<text x="71.89" y="155.1" font-size="25" stroke="#000" stroke-width="0.1">)</text>
<text x="113.38" y="149.9" font-size="25" stroke="#000" stroke-width="0.1">(</text>
<text transform="translate(122.15,148.6) scale(1.09,0.98)" x="0" y="0" font-size="20" font-style="italic">N</text>
<text x="136.95" y="148.6" font-size="20" stroke="#000" stroke-width="0.1">,</text>
<text x="143.25" y="148.6" font-size="20" stroke="#000" stroke-width="0.1">1</text>
<text x="151.4" y="148.6" font-size="20" stroke="#000" stroke-width="0.1">7</text>
<text x="161.65" y="148.6" font-size="20" stroke="#000" stroke-width="0.1">,</text>
<text x="168" y="148.6" font-size="20" stroke="#000" stroke-width="0.1">2</text>
<text x="178.35" y="148.6" font-size="20" stroke="#000" stroke-width="0.1">0</text>
<text x="188.49" y="149.9" font-size="25" stroke="#000" stroke-width="0.1">)</text>
<text x="267.57" y="152.1" font-size="25" stroke="#000" stroke-width="0.1">(</text>
<text transform="translate(276.35,150.8) scale(1.09,0.98)" x="0" y="0" font-size="20" font-style="italic">N</text>
<text x="291.15" y="150.8" font-size="20" stroke="#000" stroke-width="0.1">,</text>
<text x="297.45" y="150.8" font-size="20" stroke="#000" stroke-width="0.1">1</text>
<text x="305.6" y="150.8" font-size="20" stroke="#000" stroke-width="0.1">7</text>
<text x="315.85" y="150.8" font-size="20" stroke="#000" stroke-width="0.1">,</text>
<text x="322.7" y="150.8" font-size="20" stroke="#000" stroke-width="0.1">4</text>
<text x="332.55" y="150.8" font-size="20" stroke="#000" stroke-width="0.1">0</text>
<text x="342.69" y="152.1" font-size="25" stroke="#000" stroke-width="0.1">)</text>
<text x="423.57" y="153.6" font-size="25" stroke="#000" stroke-width="0.1">(</text>
<text transform="translate(432.35,152.3) scale(1.09,0.98)" x="0" y="0" font-size="20" font-style="italic">N</text>
<text x="447.15" y="152.3" font-size="20" stroke="#000" stroke-width="0.1">,</text>
<text x="453.45" y="152.3" font-size="20" stroke="#000" stroke-width="0.1">1</text>
<text x="461.6" y="152.3" font-size="20" stroke="#000" stroke-width="0.1">7</text>
<text x="471.85" y="152.3" font-size="20" stroke="#000" stroke-width="0.1">,</text>
<text x="478.25" y="152.3" font-size="20" stroke="#000" stroke-width="0.1">6</text>
<text x="488.55" y="152.3" font-size="20" stroke="#000" stroke-width="0.1">0</text>
<text x="498.69" y="153.6" font-size="25" stroke="#000" stroke-width="0.1">)</text>
<text x="586.98" y="151.2" font-size="25" stroke="#000" stroke-width="0.1">(</text>
<text transform="translate(595.75,149.9) scale(1.09,0.98)" x="0" y="0" font-size="20" font-style="italic">N</text>
<text x="610.55" y="149.9" font-size="20" stroke="#000" stroke-width="0.1">,</text>
<text x="616.85" y="149.9" font-size="20" stroke="#000" stroke-width="0.1">1</text>
<text x="625" y="149.9" font-size="20" stroke="#000" stroke-width="0.1">7</text>
<text x="635.25" y="149.9" font-size="20" stroke="#000" stroke-width="0.1">,</text>
<text x="641.75" y="149.9" font-size="20" stroke="#000" stroke-width="0.1">8</text>
<text x="651.95" y="149.9" font-size="20" stroke="#000" stroke-width="0.1">0</text>
<text x="662.09" y="151.2" font-size="25" stroke="#000" stroke-width="0.1">)</text>
<text x="476.53" y="341.1" font-size="21.5" stroke="#000" stroke-width="0.1">(</text>
<text transform="translate(485.24,340.7) scale(1.09,0.98)" x="0" y="0" font-size="18.5" font-style="italic">N</text>
<text x="500.21" y="340.7" font-size="18.5" stroke="#000" stroke-width="0.1">,</text>
<text x="506.48" y="340.7" font-size="18.5" stroke="#000" stroke-width="0.1">1</text>
<text x="515.41" y="340.7" font-size="18.5" stroke="#000" stroke-width="0.1">0</text>
<text x="525.21" y="340.7" font-size="18.5" stroke="#000" stroke-width="0.1">0</text>
<text x="535.4" y="341.1" font-size="21.5" stroke="#000" stroke-width="0.1">)</text>
<text x="580.84" y="353.4" font-size="23.5" stroke="#000" stroke-width="0.1">(</text>
<text transform="translate(589.74,352.9) scale(1.09,0.98)" x="0" y="0" font-size="19" font-style="italic">N</text>
<text x="604.09" y="352.9" font-size="19" stroke="#000" stroke-width="0.1">,</text>
<text x="610.24" y="352.9" font-size="19" stroke="#000" stroke-width="0.1">1</text>
<text x="618.89" y="352.9" font-size="19" stroke="#000" stroke-width="0.1">0</text>
<text x="628.69" y="352.9" font-size="19" stroke="#000" stroke-width="0.1">0</text>
<text x="639.54" y="353.4" font-size="23.5" stroke="#000" stroke-width="0.1">)</text>
<text x="364.66" y="373.8" font-size="23" stroke="#000" stroke-width="0.1">(</text>
<text transform="translate(373.25,373) scale(1.09,0.98)" x="0" y="0" font-size="19.5" font-style="italic">N</text>
<text x="388.97" y="373" font-size="19.5" stroke="#000" stroke-width="0.1">,</text>
<text x="396.31" y="373" font-size="19.5" stroke="#000" stroke-width="0.1">4</text>
<text x="406.45" y="373.8" font-size="23" stroke="#000" stroke-width="0.1">)</text>
</svg>
</body></html>
